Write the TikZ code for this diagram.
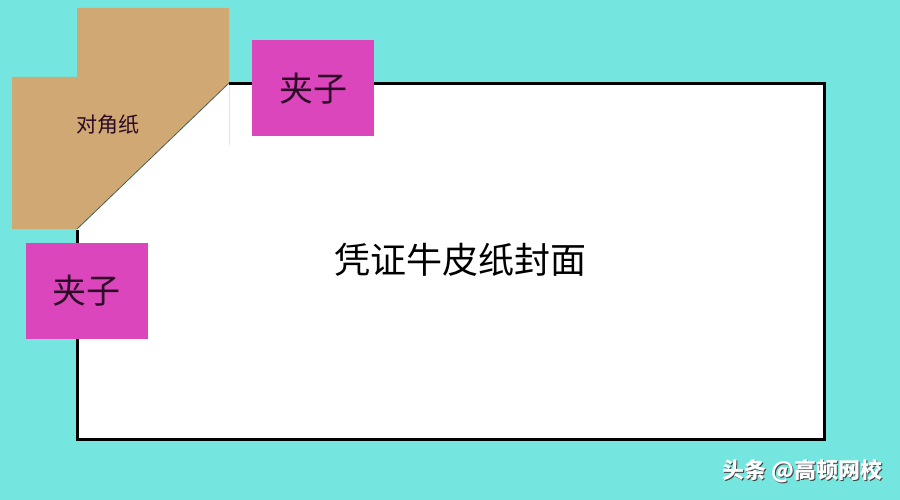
\documentclass[tikz,border=0pt]{standalone}
\usepackage{fontspec}
\newfontfamily\cjk{Noto Sans CJK SC}
\definecolor{bgcyan}{HTML}{74E5DF}
\definecolor{kraft}{HTML}{CFA873}
\definecolor{clipmag}{HTML}{DC46BC}
\definecolor{cliptext}{HTML}{2A0A24}
\tikzset{
  clipbox/.style={fill=clipmag, draw=none, minimum width=122pt, minimum height=96pt, inner sep=0pt, font=\cjk\fontsize{34}{34}\selectfont, text=cliptext},
  wmtext/.style={font=\cjk\bfseries\fontsize{22}{22}\selectfont},
}
\begin{document}
\begin{tikzpicture}[x=1pt, y=-1pt]
\fill[bgcyan] (0,0) rectangle (900,500);
\useasboundingbox (0,0) rectangle (900,500);
% cover page
\fill[white] (77,230) -- (229,84) -- (824,84) -- (824,439) -- (77,439) -- cycle;
\draw[line width=3pt, line join=miter] (229,84) -- (824,84) -- (824,439) -- (77,439) -- (77,230);
% diagonal paper
\fill[kraft] (77,8) -- (229,8) -- (229,83) -- (77,229) -- (12,229) -- (12,77) -- (77,77) -- cycle;
\draw[black!70, line width=0.6pt] (229,83) -- (77,229);
\draw[kraft!35!white, line width=0.8pt] (229.5,85) -- (229.5,145);
\node[font=\cjk\fontsize{21}{21}\selectfont, text=cliptext] (diag) at (108,125) {对角纸};
% clips
\node[clipbox] (clipA) at (313,88.5) {夹子};
\node[clipbox] (clipB) at (86.5,290.5) {夹子};
% title
\node[font=\cjk\fontsize{36}{36}\selectfont, text=black] (title) at (460,260) {凭证牛皮纸封面};
% watermark
\node[wmtext, text=black!75] (wmshadow) at (803.5,472) {头条 @高顿网校};
\node[wmtext, text=white] (wm) at (802.3,470.8) {头条 @高顿网校};
\end{tikzpicture}
\end{document}
